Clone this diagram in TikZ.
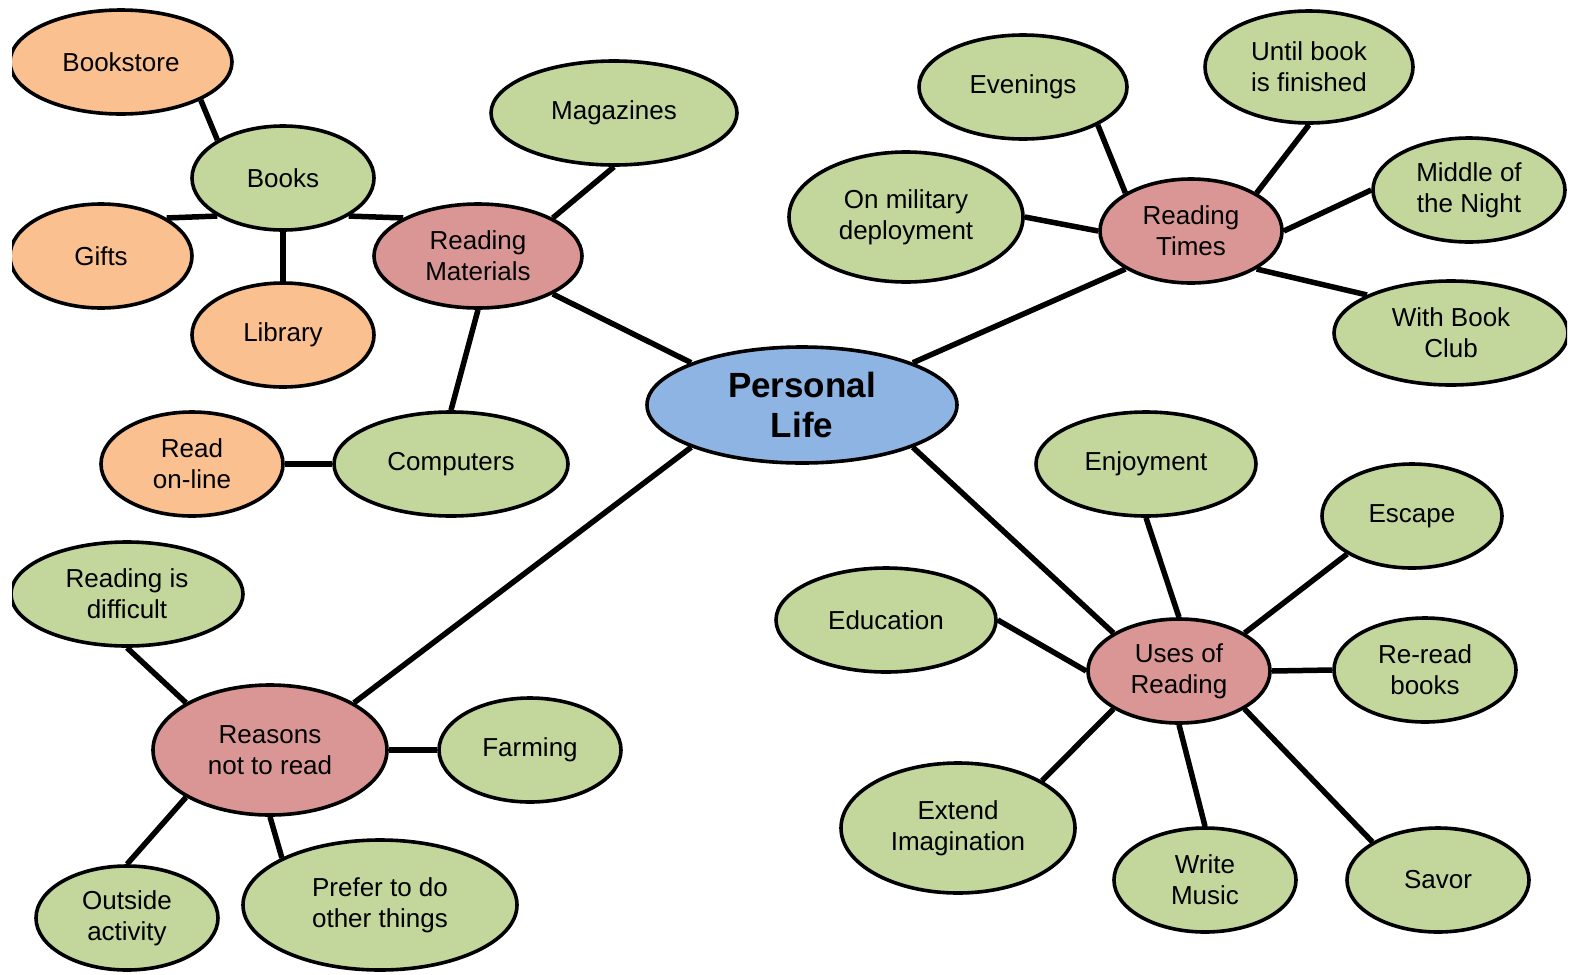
\documentclass[tikz,border=0pt]{standalone}
\usepackage{fontspec}
\setmainfont{Liberation Sans}
\usepackage{tikz}
\usetikzlibrary{shapes.geometric}

\definecolor{topicblue}{HTML}{8EB4E3}
\definecolor{subred}{HTML}{D99694}
\definecolor{leafgreen}{HTML}{C3D69B}
\definecolor{leaforange}{HTML}{FAC090}

\begin{document}
\begin{tikzpicture}[x=1pt,y=-1pt,
    bubble/.style={ellipse,draw=black,line width=3.6pt,inner sep=0pt,align=center,
        font=\fontsize{26}{31}\selectfont},
    green/.style={bubble,fill=leafgreen},
    orange/.style={bubble,fill=leaforange},
    red/.style={bubble,fill=subred},
    link/.style={line width=5.5pt}]
        \useasboundingbox (0,0) rectangle (1575,975);
        \clip (12,0) rectangle (1567,975);
        % centre
        \node[bubble,fill=topicblue,minimum width=310,minimum height=116,
            font=\fontsize{35}{40}\selectfont\bfseries] (life) at (802,405) {Personal\\Life};
        % reading materials
        \node[red,minimum width=208,minimum height=104] (materials) at (478,256) {Reading\\Materials};
        \node[green,minimum width=182,minimum height=104] (books) at (283,178) {Books};
        \node[orange,minimum width=222,minimum height=104] (bookstore) at (121,62) {Bookstore};
        \node[orange,minimum width=182,minimum height=104] (gifts) at (101,256) {Gifts};
        \node[orange,minimum width=182,minimum height=104] (library) at (283,335) {Library};
        \node[green,minimum width=246,minimum height=104] (magazines) at (614,113) {Magazines};
        \node[green,minimum width=234,minimum height=104] (computers) at (451,464) {Computers};
        \node[orange,minimum width=182,minimum height=104] (online) at (192,464) {Read\\on-line};
        % reading times
        \node[red,minimum width=182,minimum height=104] (times) at (1191,231) {Reading\\Times};
        \node[green,minimum width=208,minimum height=104] (evenings) at (1023,87) {Evenings};
        \node[green,minimum width=208,minimum height=112] (finished) at (1309,67) {Until book\\is finished};
        \node[green,minimum width=234,minimum height=130] (military) at (906,217) {On military\\deployment};
        \node[green,minimum width=192,minimum height=104] (night) at (1469,190) {Middle of\\the Night};
        \node[green,minimum width=234,minimum height=104] (club) at (1451,333) {With Book\\Club};
        % uses of reading
        \node[red,minimum width=182,minimum height=104] (uses) at (1179,671) {Uses of\\Reading};
        \node[green,minimum width=220,minimum height=104] (enjoyment) at (1146,464) {Enjoyment};
        \node[green,minimum width=180,minimum height=104] (escape) at (1412,516) {Escape};
        \node[green,minimum width=220,minimum height=104] (education) at (886,620) {Education};
        \node[green,minimum width=182,minimum height=104] (reread) at (1425,670) {Re-read\\books};
        \node[green,minimum width=234,minimum height=130] (imagination) at (958,828) {Extend\\Imagination};
        \node[green,minimum width=182,minimum height=104] (music) at (1205,880) {Write\\Music};
        \node[green,minimum width=182,minimum height=104] (savor) at (1438,880) {Savor};
        % reasons not to read
        \node[red,minimum width=234,minimum height=130] (reasons) at (270,750) {Reasons\\not to read};
        \node[green,minimum width=232,minimum height=104] (difficult) at (127,594) {Reading is\\difficult};
        \node[green,minimum width=182,minimum height=104] (farming) at (530,750) {Farming};
        \node[green,minimum width=182,minimum height=104] (outside) at (127,918) {Outside\\activity};
        \node[green,minimum width=274,minimum height=130] (prefer) at (380,905) {Prefer to do\\other things};
        % links
        \draw[link] (life.north west) -- (materials.south east);
        \draw[link] (life.north east) -- (times.south west);
        \draw[link] (life.south east) -- (uses.north west);
        \draw[link] (life.south west) -- (reasons.north east);
        \draw[link] (books.south east) -- (materials.north west);
        \draw[link] (bookstore.south east) -- (books.north west);
        \draw[link] (gifts.north east) -- (books.south west);
        \draw[link] (books.south) -- (library.north);
        \draw[link] (magazines.south) -- (materials.north east);
        \draw[link] (materials.south) -- (computers.north);
        \draw[link] (online.east) -- (computers.west);
        \draw[link] (evenings.south east) -- (times.north west);
        \draw[link] (finished.south) -- (times.north east);
        \draw[link] (night.west) -- (times.east);
        \draw[link] (military.east) -- (times.west);
        \draw[link] (club.north west) -- (times.south east);
        \draw[link] (enjoyment.south) -- (uses.north);
        \draw[link] (escape.south west) -- (uses.north east);
        \draw[link] (education.east) -- (uses.west);
        \draw[link] (reread.west) -- (uses.east);
        \draw[link] (imagination.north east) -- (uses.south west);
        \draw[link] (music.north) -- (uses.south);
        \draw[link] (savor.north west) -- (uses.south east);
        \draw[link] (difficult.south) -- (reasons.north west);
        \draw[link] (farming.west) -- (reasons.east);
        \draw[link] (outside.north) -- (reasons.south west);
        \draw[link] (prefer.north west) -- (reasons.south);
    \end{tikzpicture}
\end{document}
